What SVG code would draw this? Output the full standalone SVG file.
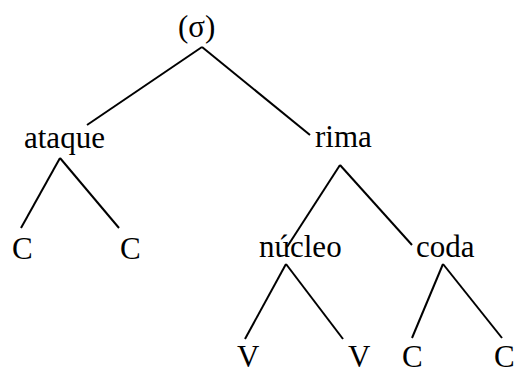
<svg xmlns="http://www.w3.org/2000/svg" width="517" height="369" viewBox="0 0 517 369">
<style>
text{font-family:"Liberation Serif","Times New Roman",serif;font-size:31px;fill:#000}
.e line{stroke:#000;stroke-width:2;stroke-linecap:butt}
</style>
<rect width="517" height="369" fill="#fff"/>
<g id="connectors" class="e">
<line x1="202" y1="47" x2="87" y2="125"/>
<line x1="202" y1="47" x2="310" y2="135"/>
<line x1="60" y1="158" x2="21" y2="228"/>
<line x1="60" y1="158" x2="119" y2="228"/>
<line x1="340" y1="165" x2="287" y2="247"/>
<line x1="340" y1="165" x2="412" y2="245"/>
<line x1="286" y1="264" x2="245" y2="339"/>
<line x1="286" y1="264" x2="343" y2="339"/>
<line x1="443" y1="264" x2="412" y2="338"/>
<line x1="443" y1="264" x2="502" y2="338"/>
</g>
<g id="sigma"><text x="178" y="37">(σ)</text></g>
<g id="ataque"><text x="24" y="148">ataque</text></g>
<g id="rima"><text x="315" y="147">rima</text></g>
<g id="c1"><text x="12" y="259">C</text></g>
<g id="c2"><text x="120" y="259">C</text></g>
<g id="nucleo"><text x="259" y="257">núcleo</text></g>
<g id="coda"><text x="416" y="257">coda</text></g>
<g id="v1"><text x="237" y="367">V</text></g>
<g id="v2"><text x="348" y="367">V</text></g>
<g id="c3"><text x="402" y="367">C</text></g>
<g id="c4"><text x="494" y="367">C</text></g>
</svg>
